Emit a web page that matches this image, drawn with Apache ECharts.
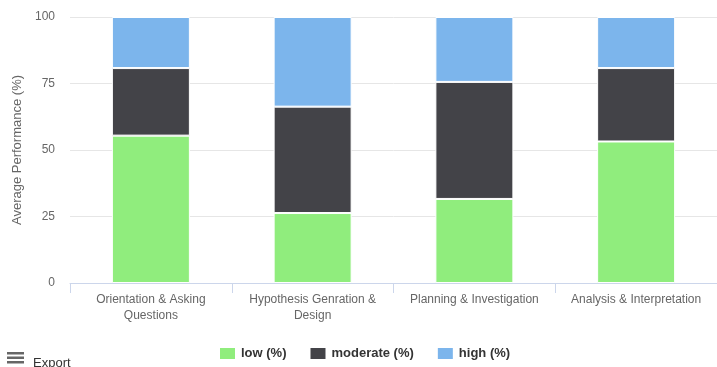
<!DOCTYPE html>
<html>
<head>
<meta charset="utf-8">
<script src="https://cdn.jsdelivr.net/npm/echarts@6/dist/echarts.min.js"></script>
<style>
  html, body { margin: 0; padding: 0; background: #fff; overflow: hidden; }
  #chart { width: 717px; height: 367px; }
</style>
</head>
<body>
<div id="chart"></div>
<script>
// Stages of inquiry (x categories)
const categories = [
  'Orientation & Asking\nQuestions',
  'Hypothesis Genration &\nDesign',
  'Planning & Investigation',
  'Analysis & Interpretation'
];
// Share of students per performance level (%)
const lowValues = [55.4, 26.3, 31.6, 53.2];
const moderateValues = [25.4, 40.0, 44.0, 27.6];
const highValues = [19.2, 33.7, 24.4, 19.2];
const yTicks = [0, 25, 50, 75, 100];

const seriesDefs = [
  { name: 'low (%)', data: lowValues, color: '#90ed7d' },
  { name: 'moderate (%)', data: moderateValues, color: '#434348' },
  { name: 'high (%)', data: highValues, color: '#7cb5ec' }
];

const font = 'Liberation Sans, Arial, sans-serif';
const chart = echarts.init(document.getElementById('chart'), null, { renderer: 'canvas' });

chart.setOption({
  animation: false,
  textStyle: { fontFamily: font },
  // plot area runs a little past the right edge of the canvas
  grid: { left: 70, width: 653, top: 17, height: 266, containLabel: false },
  legend: {
    top: 346,
    left: 218,
    padding: 0,
    itemWidth: 17,
    itemHeight: 13,
    itemGap: 22,
    itemTextGap: 5,
    icon: 'rect',
    textStyle: { fontFamily: font, fontSize: 13, fontWeight: 'bold', color: '#333' },
    data: seriesDefs.map(s => s.name)
  },
  xAxis: {
    type: 'category',
    data: categories,
    axisLine: { lineStyle: { color: '#ccd6eb' } },
    axisTick: { show: true, length: 10, lineStyle: { color: '#ccd6eb' } },
    axisLabel: { color: '#666', fontSize: 12, lineHeight: 16, margin: 9, interval: 0 }
  },
  yAxis: {
    type: 'value',
    min: yTicks[0],
    max: yTicks[yTicks.length - 1],
    interval: 25,
    name: 'Average Performance (%)',
    nameLocation: 'middle',
    nameGap: 46,
    nameTextStyle: { color: '#666', fontSize: 13 },
    axisLine: { show: false },
    axisTick: { show: false },
    axisLabel: { color: '#666', fontSize: 12, margin: 15 },
    splitLine: { lineStyle: { color: '#e6e6e6' } }
  },
  series: seriesDefs.map(s => ({
    name: s.name,
    type: 'bar',
    stack: 'total',
    barWidth: 78,
    data: s.data,
    itemStyle: { color: s.color, borderColor: '#fff', borderWidth: 1 }
  })),
  graphic: [
    {
      type: 'group', left: 7, top: 352,
      children: [
        { type: 'rect', shape: { x: 0, y: 0, width: 17, height: 2.5 }, style: { fill: '#666' } },
        { type: 'rect', shape: { x: 0, y: 4.5, width: 17, height: 2.5 }, style: { fill: '#666' } },
        { type: 'rect', shape: { x: 0, y: 9, width: 17, height: 2.5 }, style: { fill: '#666' } }
      ]
    },
    {
      type: 'text', left: 33, top: 357,
      style: { text: 'Export', fill: '#333', font: '13px ' + font }
    }
  ]
});
</script>
</body>
</html>
